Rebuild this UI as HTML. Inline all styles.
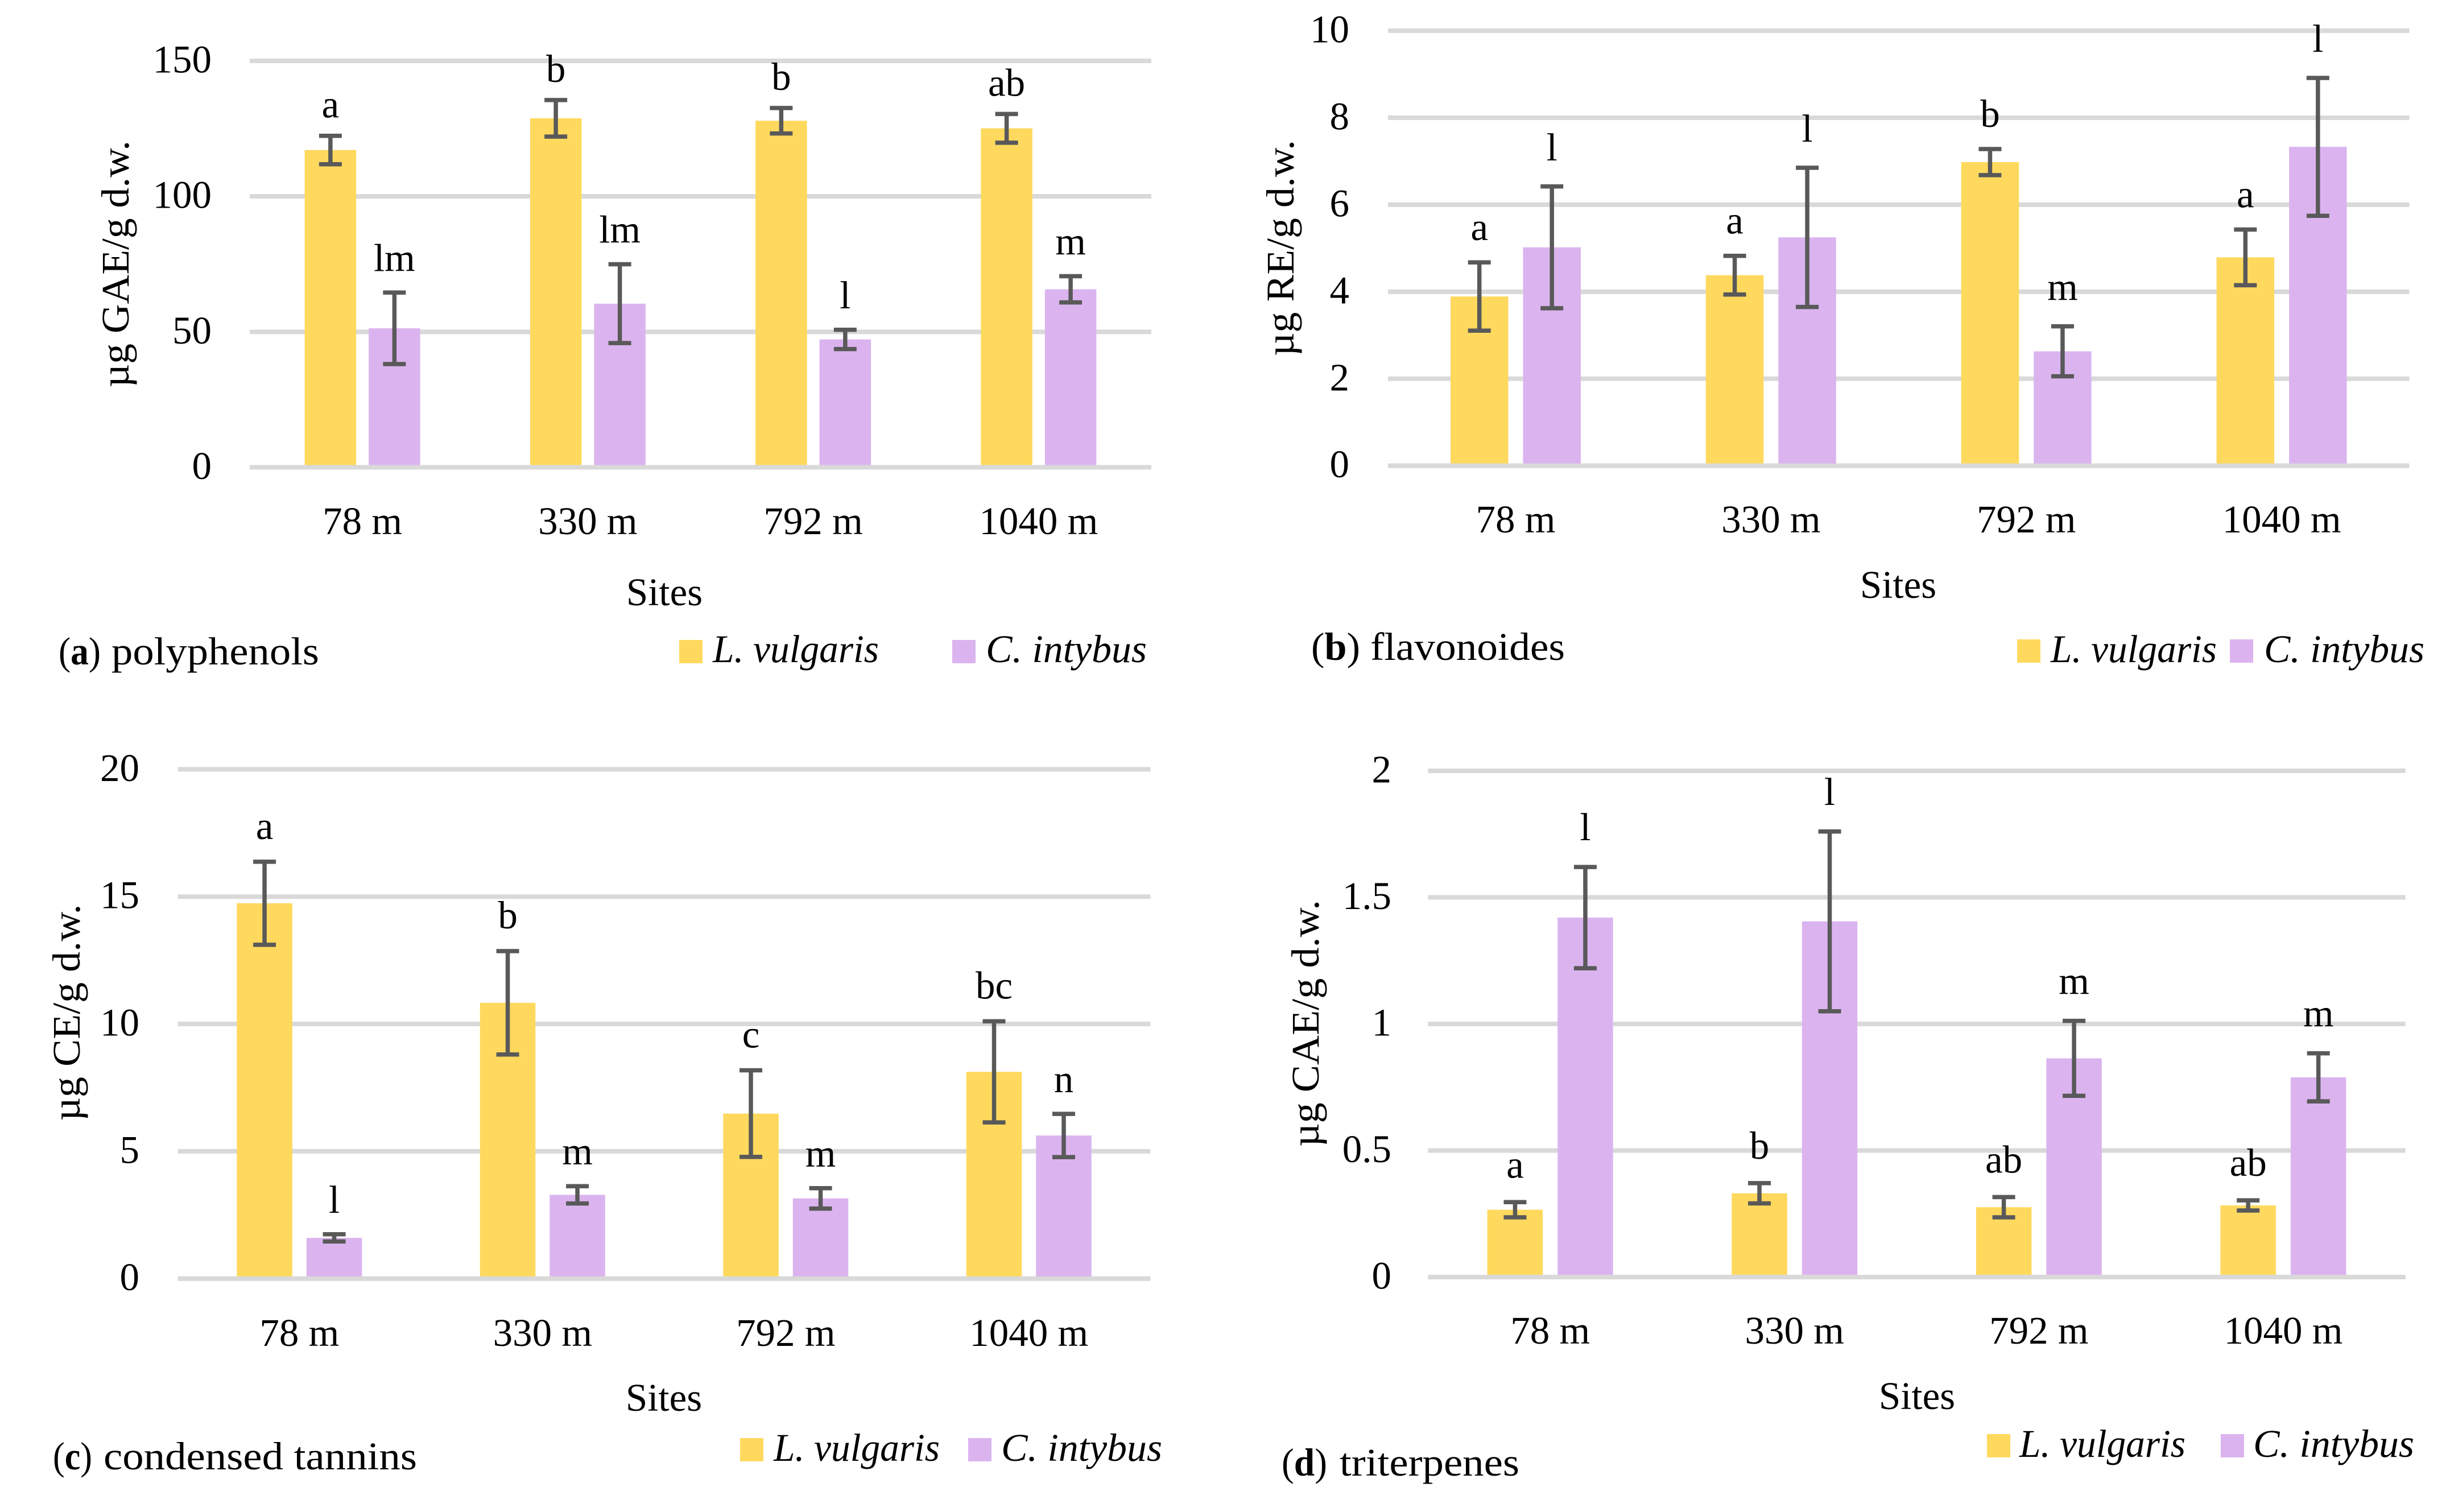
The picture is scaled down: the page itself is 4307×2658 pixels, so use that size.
<!DOCTYPE html>
<html lang="en">
<head>
<meta charset="utf-8">
<title>Phytochemical content by site</title>
<style>
html,body{margin:0;padding:0;background:#fff;}
svg{display:block;}
text{font-family:"Liberation Serif",serif;font-size:69px;fill:#000;}
.it{font-style:italic;}
</style>
</head>
<body>
<svg id="chart" xmlns="http://www.w3.org/2000/svg" width="4307" height="2658" viewBox="0 0 4307 2658">
<rect x="0" y="0" width="4307" height="2658" fill="#ffffff"/>
<g id="panel-a">
<text transform="translate(226,464) rotate(-90)" text-anchor="middle" textLength="434" lengthAdjust="spacingAndGlyphs">µg GAE/g d.w.</text>
<text x="1168" y="1064" text-anchor="middle">Sites</text>
<text x="103" y="1168" textLength="74" lengthAdjust="spacingAndGlyphs">(<tspan font-weight="bold">a</tspan>)</text>
<text x="196" y="1168" textLength="365" lengthAdjust="spacingAndGlyphs">polyphenols</text>
<rect x="1194" y="1125" width="41" height="41" fill="#FFD95E"/>
<text class="it" x="1253" y="1164" textLength="292" lengthAdjust="spacingAndGlyphs">L. vulgaris</text>
<rect x="1674" y="1125" width="41" height="41" fill="#DBB4EF"/>
<text class="it" x="1733" y="1164" textLength="283" lengthAdjust="spacingAndGlyphs">C. intybus</text>
</g>
<g id="panel-b">
<text transform="translate(2274,436) rotate(-90)" text-anchor="middle" textLength="380" lengthAdjust="spacingAndGlyphs">µg RE/g d.w.</text>
<text x="3337" y="1051" text-anchor="middle">Sites</text>
<text x="2305" y="1160" textLength="86" lengthAdjust="spacingAndGlyphs">(<tspan font-weight="bold">b</tspan>)</text>
<text x="2409" y="1160" textLength="342" lengthAdjust="spacingAndGlyphs">flavonoides</text>
<rect x="3546" y="1124" width="41" height="41" fill="#FFD95E"/>
<text class="it" x="3605" y="1164" textLength="292" lengthAdjust="spacingAndGlyphs">L. vulgaris</text>
<rect x="3920" y="1124" width="41" height="41" fill="#DBB4EF"/>
<text class="it" x="3980" y="1164" textLength="282" lengthAdjust="spacingAndGlyphs">C. intybus</text>
</g>
<g id="panel-c">
<text transform="translate(140,1780) rotate(-90)" text-anchor="middle" textLength="381" lengthAdjust="spacingAndGlyphs">µg CE/g d.w.</text>
<text x="1167" y="2480" text-anchor="middle">Sites</text>
<text x="93" y="2583" textLength="69" lengthAdjust="spacingAndGlyphs">(<tspan font-weight="bold">c</tspan>)</text>
<text x="182" y="2583" textLength="551" lengthAdjust="spacingAndGlyphs">condensed tannins</text>
<rect x="1301" y="2528" width="41" height="41" fill="#FFD95E"/>
<text class="it" x="1360" y="2568" textLength="292" lengthAdjust="spacingAndGlyphs">L. vulgaris</text>
<rect x="1702" y="2528" width="41" height="41" fill="#DBB4EF"/>
<text class="it" x="1760" y="2568" textLength="283" lengthAdjust="spacingAndGlyphs">C. intybus</text>
</g>
<g id="panel-d">
<text transform="translate(2318,1799) rotate(-90)" text-anchor="middle" textLength="434" lengthAdjust="spacingAndGlyphs">µg CAE/g d.w.</text>
<text x="3370" y="2477" text-anchor="middle">Sites</text>
<text x="2253" y="2594" textLength="80" lengthAdjust="spacingAndGlyphs">(<tspan font-weight="bold">d</tspan>)</text>
<text x="2355" y="2594" textLength="316" lengthAdjust="spacingAndGlyphs">triterpenes</text>
<rect x="3493" y="2521" width="41" height="41" fill="#FFD95E"/>
<text class="it" x="3550" y="2561" textLength="292" lengthAdjust="spacingAndGlyphs">L. vulgaris</text>
<rect x="3904" y="2521" width="41" height="41" fill="#DBB4EF"/>
<text class="it" x="3961" y="2561" textLength="283" lengthAdjust="spacingAndGlyphs">C. intybus</text>
</g>
</svg>
<script>
const categories = ['78 m', '330 m', '792 m', '1040 m'];

const ticksA = [0, 50, 100, 150];
const vulgarisA = [117.1, 128.8, 127.9, 125.1];
const intybusA = [51.3, 60.4, 47.2, 65.7];
const vulgarisErrA = [5.25, 6.75, 4.7, 5.3];
const intybusErrA = [13.2, 14.55, 3.55, 4.85];
const vulgarisLettersA = ['a', 'b', 'b', 'ab'];
const intybusLettersA = ['lm', 'lm', 'l', 'm'];

const ticksB = [0, 2, 4, 6, 8, 10];
const vulgarisB = [3.89, 4.38, 6.98, 4.79];
const intybusB = [5.02, 5.25, 2.63, 7.33];
const vulgarisErrB = [0.785, 0.445, 0.3, 0.64];
const intybusErrB = [1.4, 1.6, 0.575, 1.585];
const vulgarisLettersB = ['a', 'a', 'b', 'a'];
const intybusLettersB = ['l', 'l', 'm', 'l'];

const ticksC = [0, 5, 10, 15, 20];
const vulgarisC = [14.74, 10.83, 6.48, 8.12];
const intybusC = [1.6, 3.29, 3.15, 5.62];
const vulgarisErrC = [1.63, 2.03, 1.7, 1.985];
const intybusErrC = [0.14, 0.34, 0.4, 0.85];
const vulgarisLettersC = ['a', 'b', 'c', 'bc'];
const intybusLettersC = ['l', 'm', 'm', 'n'];

const ticksD = [0, 0.5, 1, 1.5, 2];
const vulgarisD = [0.266, 0.331, 0.276, 0.283];
const intybusD = [1.42, 1.405, 0.864, 0.789];
const vulgarisErrD = [0.03, 0.04, 0.04, 0.02];
const intybusErrD = [0.2, 0.355, 0.148, 0.095];
const vulgarisLettersD = ['a', 'b', 'ab', 'ab'];
const intybusLettersD = ['l', 'l', 'm', 'm'];

const SVG_NS = 'http://www.w3.org/2000/svg';

function make(parent, tag, attrs, text) {
  const el = document.createElementNS(SVG_NS, tag);
  for (const k in attrs) el.setAttribute(k, attrs[k]);
  if (text !== undefined) el.textContent = text;
  parent.appendChild(el);
  return el;
}

function drawPanel(p) {
  const host = document.getElementById('panel-' + p.id);
  const top = p.ticks[p.ticks.length - 1];
  const yOf = v => p.bottom - (v / top) * (p.bottom - p.top);
  const band = (p.right - p.left) / categories.length;
  const xOf = i => p.left + band * (i + 0.5);

  p.ticks.forEach(t => {
    const grid = make(host, 'line', {x1: p.left, x2: p.right, y1: yOf(t), y2: yOf(t), stroke: '#D9D9D9', 'stroke-width': 8});
    
    
    const label = make(host, 'text', {x: p.tickRight, y: yOf(t) + 20.5, 'text-anchor': 'end'}, String(t));
    
    
  });

  const series = [
    {key: 'l-vulgaris', values: p.vulgaris, errs: p.vulgarisErr, letters: p.vulgarisLetters, color: '#FFD95E', off: -(p.gap + p.barW) / 2, gap: p.gapVulgaris},
    {key: 'c-intybus', values: p.intybus, errs: p.intybusErr, letters: p.intybusLetters, color: '#DBB4EF', off: (p.gap + p.barW) / 2, gap: p.gapIntybus}
  ];

  series.forEach(s => {
    s.values.forEach((v, i) => {
      const bar = make(host, 'rect', {x: xOf(i) + s.off - p.barW / 2, y: yOf(v), width: p.barW, height: Math.max(0, yOf(0) - yOf(v)), fill: s.color});
      
      
    });
  });

  const base = make(host, 'line', {x1: p.left, x2: p.right, y1: yOf(0), y2: yOf(0), stroke: '#D9D9D9', 'stroke-width': 8});
  
  

  series.forEach(s => {
    s.values.forEach((v, i) => {
      const cx = xOf(i) + s.off;
      const hi = yOf(v + s.errs[i]);
      const lo = yOf(v - s.errs[i]);
      const eb = make(host, 'path', {
        d: 'M' + cx + ' ' + hi + 'V' + lo + 'M' + (cx - 20) + ' ' + hi + 'H' + (cx + 20) + 'M' + (cx - 20) + ' ' + lo + 'H' + (cx + 20),
        fill: 'none', stroke: '#595959', 'stroke-width': 7.5
      });
      
      
      const letter = make(host, 'text', {x: cx, y: hi - s.gap, 'text-anchor': 'middle'}, s.letters[i]);
      
      
    });
  });

  categories.forEach((c, i) => {
    const cat = make(host, 'text', {x: xOf(i), y: p.catY, 'text-anchor': 'middle'}, c);
    
    
  });
}

drawPanel({id: 'a', left: 439, right: 2024, top: 107, bottom: 821.5, barW: 90.5, gap: 22, tickRight: 372, catY: 939, gapVulgaris: 32, gapIntybus: 38,
  ticks: ticksA, vulgaris: vulgarisA, intybus: intybusA, vulgarisErr: vulgarisErrA, intybusErr: intybusErrA, vulgarisLetters: vulgarisLettersA, intybusLetters: intybusLettersA});
drawPanel({id: 'b', left: 2440, right: 4235.5, top: 54, bottom: 818.7, barW: 101.5, gap: 26, tickRight: 2372, catY: 936, gapVulgaris: 39, gapIntybus: 46,
  ticks: ticksB, vulgaris: vulgarisB, intybus: intybusB, vulgarisErr: vulgarisErrB, intybusErr: intybusErrB, vulgarisLetters: vulgarisLettersB, intybusLetters: intybusLettersB});
drawPanel({id: 'c', left: 312.6, right: 2022.5, top: 1352.4, bottom: 2247.7, barW: 97.5, gap: 25, tickRight: 245, catY: 2366, gapVulgaris: 40, gapIntybus: 38,
  ticks: ticksC, vulgaris: vulgarisC, intybus: intybusC, vulgarisErr: vulgarisErrC, intybusErr: intybusErrC, vulgarisLetters: vulgarisLettersC, intybusLetters: intybusLettersC});
drawPanel({id: 'd', left: 2510.4, right: 4228.7, top: 1355, bottom: 2245, barW: 97.5, gap: 26, tickRight: 2446, catY: 2362, gapVulgaris: 43, gapIntybus: 47,
  ticks: ticksD, vulgaris: vulgarisD, intybus: intybusD, vulgarisErr: vulgarisErrD, intybusErr: intybusErrD, vulgarisLetters: vulgarisLettersD, intybusLetters: intybusLettersD});
</script>
</body>
</html>
